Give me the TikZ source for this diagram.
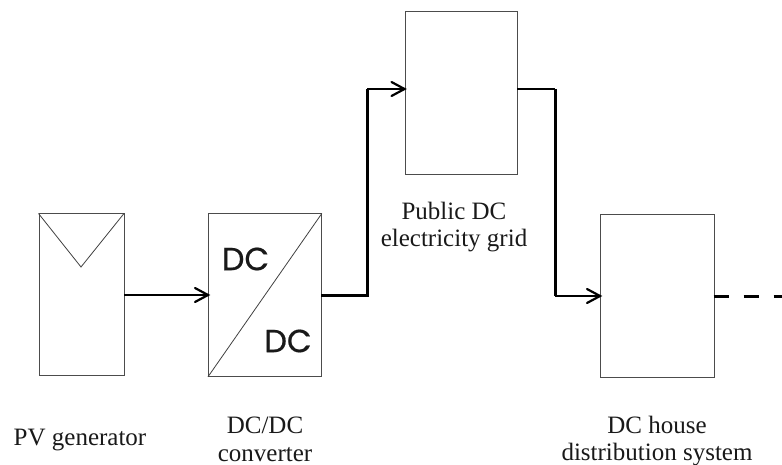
\documentclass[tikz,border=0pt]{standalone}
\usepackage{fontspec}
\setmainfont{Liberation Serif}
\newfontfamily\dcfont[FakeBold=0.6]{Poppins}
\begin{document}
\begin{tikzpicture}[x=1pt,y=-1pt,
 blockbox/.style={draw=black!70,line width=0.8pt,minimum width=#1,inner sep=0pt,anchor=north west},
 lbl/.style={font=\fontsize{25}{27.5}\selectfont,align=center,text=black!90,inner sep=0pt},
 dc/.style={font=\dcfont\fontsize{32}{32}\selectfont,text=black!90},
 conn/.style={line width=2pt,black},
 heavy/.style={line width=3pt,black},
 tip/.style={line width=2.2pt,black,line cap=round}]
\useasboundingbox (0,0) rectangle (782,465);
\node[blockbox=85.5pt,minimum height=161.5pt] (pv) at (38.5,213.5) {};
\coordinate (pva) at (38.5,213.5);
\coordinate (pvb) at (124,213.5);
\coordinate (pvc) at (81,267);
\draw[line width=0.8pt,black!75] (pva) -- (pvc) -- (pvb);
\node[blockbox=113pt,minimum height=162.5pt] (conv) at (208,213.5) {};
\draw[line width=0.8pt,black!75] (conv.south west) -- (conv.north east);
\node[dc] (dc1) at (245.5,259) {DC};
\node[dc] (dc2) at (288,341) {DC};
\node[blockbox=112.5pt,minimum height=162.5pt] (grid) at (404.5,11.5) {};
\node[blockbox=113.5pt,minimum height=162.5pt] (house) at (600,214) {};
\coordinate (pvout) at (124,295);
\coordinate (pvin) at (208,295);
\coordinate (convout) at (321,295.5);
\coordinate (bend1) at (367,295.5);
\coordinate (bend2) at (367,89);
\coordinate (gridin) at (404.5,89);
\coordinate (gridout) at (517,89);
\coordinate (bend3) at (555,89);
\coordinate (bend4) at (555,296);
\coordinate (housein) at (600,296);
\coordinate (houseout) at (713.5,296);
\coordinate (dashend) at (782,296);
\draw[conn] (pvout) -- (pvin);
\draw[heavy] (convout) -- (bend1) -- (bend2);
\draw[conn] (bend2) -- (gridin);
\draw[conn] (gridout) -- (bend3);
\draw[heavy] (bend3) -- (bend4);
\draw[conn] (bend4) -- (housein);
\draw[heavy,dash pattern=on 15pt off 15pt] (houseout) -- (dashend);
\foreach \x/\y in {208/295,404.5/89,600/296}{
 \draw[tip] (\x-13,\y-7) -- (\x,\y) -- (\x-13,\y+7);
}
\node[lbl] (l1) at (80,440) {PV generator};
\node[lbl] (l2) at (265,439.5) {DC/DC\\converter};
\node[lbl] (l3) at (454,227) {Public DC\\electricity grid};
\node[lbl] (l4) at (657,441) {DC house\\distribution system};
\end{tikzpicture}
\end{document}
